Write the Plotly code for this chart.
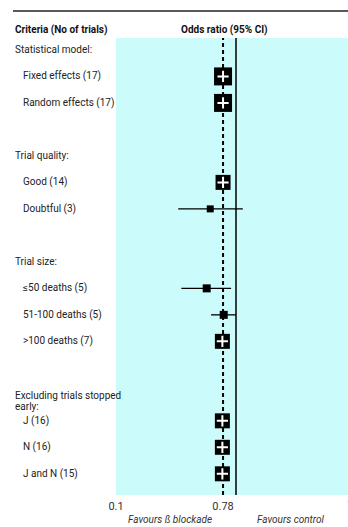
import numpy as np
import plotly.graph_objects as go

# Row layout (top to bottom); None marks a blank spacer row
labels = [
    "Statistical model:", "Fixed effects (17)", "Random effects (17)", None,
    "Trial quality:", "Good (14)", "Doubtful (3)", None,
    "Trial size:", "\u226450 deaths (5)", "51-100 deaths (5)", ">100 deaths (7)", None,
    "Excluding trials stopped\nearly:", "J (16)", "N (16)", "J and N (15)",
]
is_header = [True, False, False, None, True, False, False, None,
             True, False, False, False, None, True, False, False, False]

# Estimates (odds ratio with 95% CI) for the data rows
est_rows = [1, 2, 5, 6, 9, 10, 11, 14, 15, 16]
odds_ratio = [0.78, 0.78, 0.78, 0.61, 0.57, 0.79, 0.77, 0.77, 0.77, 0.77]
ci_low = [0.71, 0.70, 0.70, 0.33, 0.35, 0.62, 0.69, 0.69, 0.69, 0.69]
ci_high = [0.86, 0.87, 0.87, 1.14, 0.91, 1.00, 0.86, 0.86, 0.86, 0.86]
box_size = [18, 18, 15, 7, 8, 8, 15, 15, 15, 15]

pooled = 0.78
tick_vals = [0.1, 0.78]
tick_text = ["0.1", "0.78"]

font_family = "Roboto, Liberation Sans, sans-serif"
fs = 10
cyan = "#ccfbfb"

W, H = 348, 527
left, top, bottom = 116, 38, 32
px_per_decade = 120.0
x_range = [-1, -1 + (W - left) / px_per_decade]
y_range = [16.8, -0.45]

or_arr = np.array(odds_ratio)
lo_arr = np.array(ci_low)
hi_arr = np.array(ci_high)

fig = go.Figure()

# Confidence interval lines with boxes
fig.add_trace(go.Scatter(
    x=odds_ratio, y=est_rows, mode="markers",
    marker=dict(symbol="square", size=box_size, color="#000000",
                opacity=1, line=dict(width=0)),
    error_x=dict(type="data", symmetric=False,
                 array=list(hi_arr - or_arr), arrayminus=list(or_arr - lo_arr),
                 width=0, thickness=1.3, color="#000000"),
    hoverinfo="skip", showlegend=False,
))

# White cross inside the larger boxes
big = [i for i, s in enumerate(box_size) if s >= 12]
fig.add_trace(go.Scatter(
    x=[odds_ratio[i] for i in big], y=[est_rows[i] for i in big],
    mode="markers",
    marker=dict(symbol="cross-thin", size=8, color="white",
                line=dict(width=2, color="white")),
    hoverinfo="skip", showlegend=False,
))

# Reference lines: pooled estimate (dashed) and no effect (solid)
fig.add_shape(type="line", x0=pooled, x1=pooled, y0=0, y1=1,
              xref="x", yref="paper", layer="below",
              line=dict(color="black", width=2, dash="4px,3px"))
fig.add_shape(type="line", x0=1, x1=1, y0=0, y1=1,
              xref="x", yref="paper", layer="below",
              line=dict(color="black", width=1.5))

def px_to_paper_x(px):
    return (px - left) / (W - left)

def px_to_paper_y(py):
    return 1 - (py - top) / (H - top - bottom)

annotations = []
for r, (lab, hdr) in enumerate(zip(labels, is_header)):
    if lab is None:
        continue
    x_px = 13 if hdr else 21
    lines = lab.split("\n")
    for k, line in enumerate(lines):
        shift = 0 if len(lines) == 1 else -1 - 11 * k
        annotations.append(dict(
            x=px_to_paper_x(x_px), xref="paper", y=r, yref="y",
            text=line, showarrow=False, xanchor="left",
            yanchor="middle", align="left", yshift=shift,
            font=dict(family=font_family, size=fs, color="#222"),
        ))

# Column headings
annotations.append(dict(
    x=px_to_paper_x(13), xref="paper", y=px_to_paper_y(30), yref="paper",
    text="<b>Criteria (No of trials)</b>", showarrow=False,
    xanchor="left", yanchor="middle",
    font=dict(family=font_family, size=fs, color="#111")))
annotations.append(dict(
    x=px_to_paper_x(224), xref="paper", y=px_to_paper_y(30), yref="paper",
    text="<b>Odds ratio (95% CI)</b>", showarrow=False,
    xanchor="center", yanchor="middle",
    font=dict(family=font_family, size=fs, color="#111")))

# Far-right tick label at 10 (partly beyond the page edge)
annotations.append(dict(
    x=px_to_paper_x(345), xref="paper", y=px_to_paper_y(505), yref="paper",
    text="10", showarrow=False, xanchor="left", yanchor="middle",
    font=dict(family=font_family, size=fs + 1, color="#333")))

# Direction labels under the axis
annotations.append(dict(
    x=px_to_paper_x(170), xref="paper", y=px_to_paper_y(519), yref="paper",
    text="<i>Favours \u00df blockade</i>", showarrow=False,
    xanchor="center", yanchor="middle",
    font=dict(family=font_family, size=fs, color="#333")))
annotations.append(dict(
    x=px_to_paper_x(291), xref="paper", y=px_to_paper_y(519), yref="paper",
    text="<i>Favours control</i>", showarrow=False,
    xanchor="center", yanchor="middle",
    font=dict(family=font_family, size=fs, color="#333")))

# Top rule
fig.add_shape(type="line", xref="paper", yref="paper",
              x0=px_to_paper_x(13), x1=px_to_paper_x(348),
              y0=px_to_paper_y(11), y1=px_to_paper_y(11),
              line=dict(color="#222", width=1.3))

fig.update_layout(
    width=W, height=H,
    margin=dict(l=left, r=0, t=top, b=bottom, pad=0),
    paper_bgcolor="white", plot_bgcolor=cyan,
    annotations=annotations,
    xaxis=dict(type="log", range=x_range, tickvals=tick_vals,
               ticktext=tick_text, showgrid=False, zeroline=False,
               showline=False, ticks="", ticklabelstandoff=3,
               tickfont=dict(family=font_family, size=fs + 1, color="#333")),
    yaxis=dict(range=y_range, showgrid=False, zeroline=False,
               showticklabels=False, ticks="", showline=False),
    font=dict(family=font_family),
)

fig.write_html("out.html")
